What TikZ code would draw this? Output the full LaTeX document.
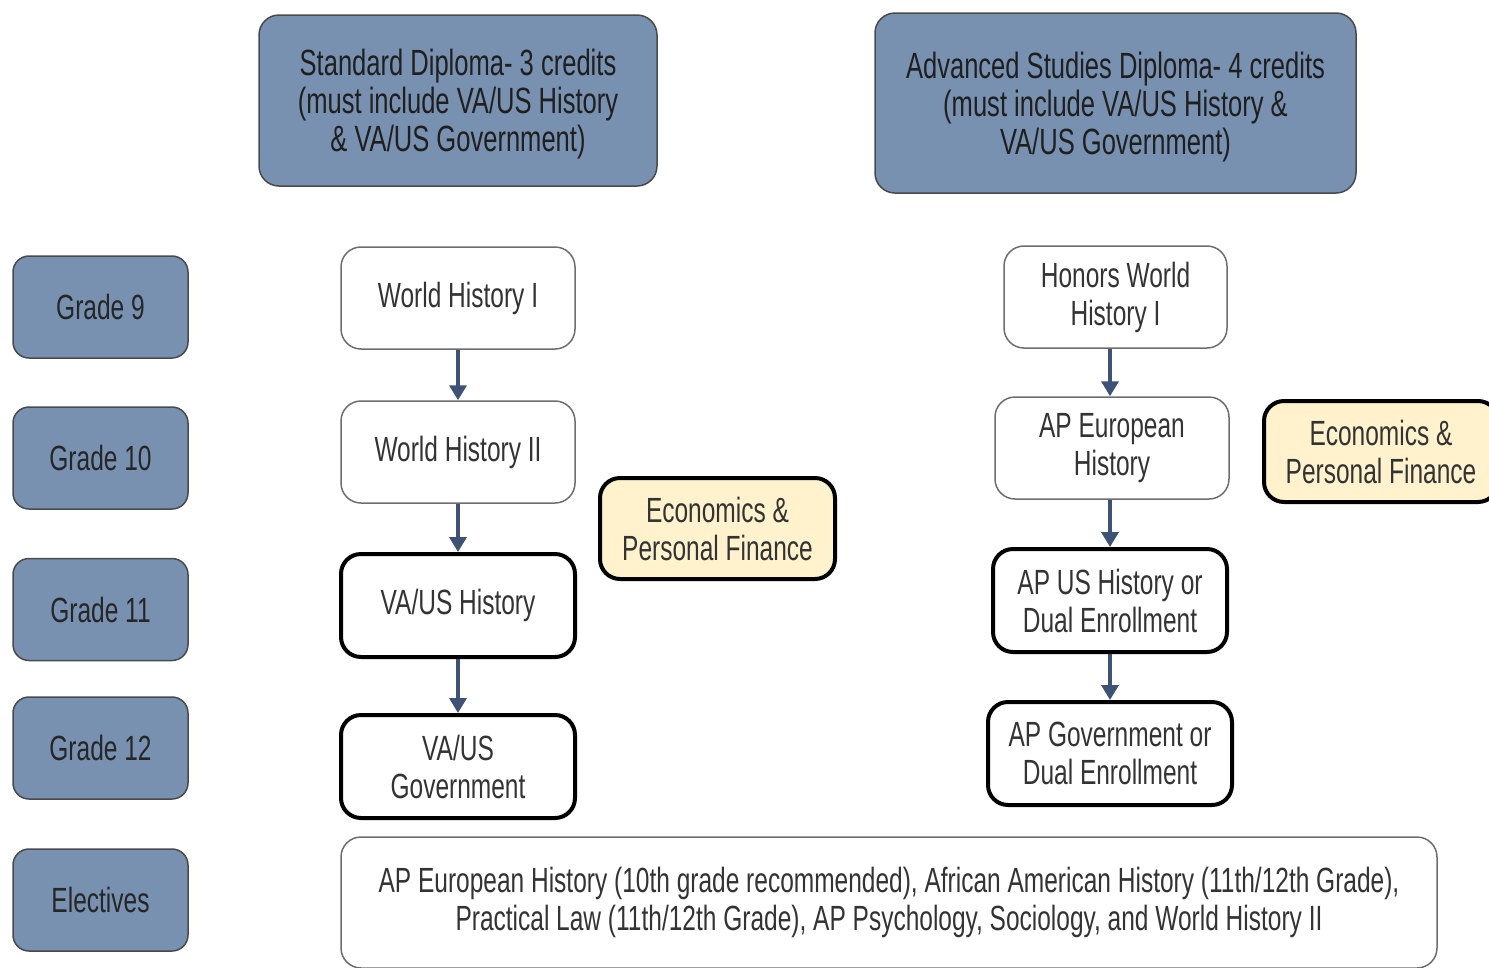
\documentclass[tikz,border=0pt]{standalone}
\usepackage{fontspec}
\setmainfont{Liberation Sans}[FakeStretch=0.7]
\usetikzlibrary{arrows.meta}
\definecolor{hdrblue}{HTML}{7891B1}
\definecolor{econyel}{HTML}{FFF2CC}
\definecolor{txtgray}{HTML}{333333}
\definecolor{arrblue}{HTML}{3D5275}
\definecolor{edgegray}{HTML}{4A4A4A}
\tikzset{
  base/.style={rounded corners=20pt, align=center, inner sep=0pt, text=txtgray,
    font=\fontsize{35}{38}\selectfont},
  hdrbox/.style={base, fill=hdrblue, draw=edgegray, line width=1.5pt, text=black!88,
    font=\fontsize{36.5}{38}\selectfont, text depth=0pt},
  gradebox/.style={base, fill=hdrblue, draw=edgegray, line width=1.5pt, text=black!85,
    minimum width=175pt, minimum height=102pt, rounded corners=16pt},
  pathbox/.style={base, fill=white, draw=edgegray!80, line width=1.5pt},
  reqbox/.style={base, fill=white, draw=black, line width=4pt},
  econbox/.style={base, fill=econyel, draw=black, line width=4pt},
  flow/.style={draw=arrblue, line width=3.6pt, -{Triangle[width=17pt,length=15pt]}},
}
\begin{document}
\begin{tikzpicture}[x=1pt,y=-1pt]
\useasboundingbox (0,0) rectangle (1489,967);
\clip (0,0) rectangle (1489,967);
\fill[white] (0,0) rectangle (1489,967);
% headers
\node[hdrbox, minimum width=398pt, minimum height=171pt] (std) at (458,100.5)
  {Standard Diploma- 3 credits\\(must include VA/US History\\\& VA/US Government)};
\node[hdrbox, minimum width=481pt, minimum height=180pt] (adv) at (1115.5,103)
  {Advanced Studies Diploma- 4 credits\\(must include VA/US History \&\\VA/US Government)};
% grades
\node[gradebox] (g9) at (100.5,307) {Grade 9};
\node[gradebox] (g10) at (100.5,458) {Grade 10};
\node[gradebox] (g11) at (100.5,609.5) {Grade 11};
\node[gradebox] (g12) at (100.5,748) {Grade 12};
\node[gradebox] (el) at (100.5,900) {Electives};
% standard path
\node[pathbox, minimum width=234pt, minimum height=102pt] (wh1) at (458,298) {World History I};
\node[pathbox, minimum width=234pt, minimum height=102pt] (wh2) at (458,452) {World History II};
\node[reqbox, minimum width=234pt, minimum height=103pt] (vah) at (458,605.5) {VA/US History};
\node[reqbox, minimum width=234pt, minimum height=103pt] (vag) at (458,766.5) {VA/US\\Government};
\node[econbox, minimum width=235pt, minimum height=101pt] (econ1) at (717.5,528.5) {Economics \&\\Personal Finance};
% advanced path
\node[pathbox, minimum width=223pt, minimum height=102pt] (hwh) at (1115.5,297) {Honors World\\History I};
\node[pathbox, minimum width=234pt, minimum height=102pt] (ape) at (1112,448) {AP European\\History};
\node[reqbox, minimum width=234pt, minimum height=103pt] (apus) at (1110,600.5) {AP US History or\\Dual Enrollment};
\node[reqbox, minimum width=244pt, minimum height=103pt] (apg) at (1110,753.5) {AP Government or\\Dual Enrollment};
\node[econbox, minimum width=234pt, minimum height=101pt] (econ2) at (1381,451.5) {Economics \&\\Personal Finance};
% electives
\node[pathbox, minimum width=1096pt, minimum height=131pt] (elx) at (889,902.5)
  {AP European History (10th grade recommended), African American History (11th/12th Grade),\\Practical Law (11th/12th Grade), AP Psychology, Sociology, and World History II};
% arrows
\draw[flow] (wh1.south) -- (wh2.north);
\draw[flow] (wh2.south) -- (vah.north);
\draw[flow] (vah.south) -- (vag.north);
\draw[flow] (hwh.south -| apus.north) -- (ape.north -| apus.north);
\draw[flow] (ape.south -| apus.north) -- (apus.north);
\draw[flow] (apus.south) -- (apg.north);
\end{tikzpicture}
\end{document}
